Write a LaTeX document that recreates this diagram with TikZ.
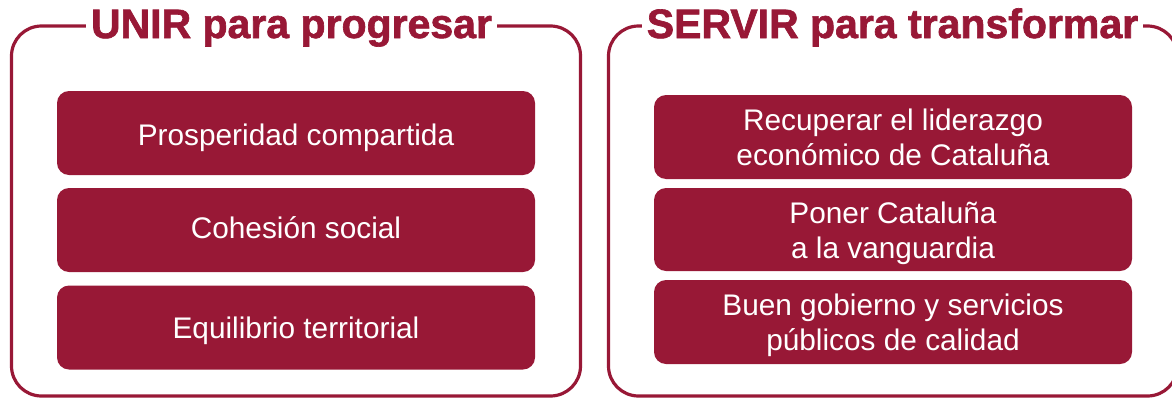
\documentclass[tikz,border=0pt]{standalone}
\usepackage{fontspec}
\setmainfont{Liberation Sans}
\newfontfamily\heavyfont{Liberation Sans}[BoldFeatures={FakeBold=1.6}]
\definecolor{wine}{RGB}{152,24,54}
\tikzset{
  frame/.style={draw=wine, line width=3.2pt, rounded corners=30pt},
  ttl/.style={fill=white, text=wine, font=\heavyfont\fontsize{41}{48}\selectfont\bfseries, inner xsep=5pt, inner ysep=2pt, anchor=base},
  box/.style={fill=wine, rounded corners=12pt, minimum width=478pt, minimum height=84pt, inner sep=0pt},
  lbl/.style={text=white, font=\fontsize{29.8}{35.5}\selectfont, inner sep=0pt, anchor=base},
}
\newcommand{\twolines}[2]{\begin{tabular}[t]{@{}c@{}}#1\\#2\end{tabular}}
\begin{document}
\begin{tikzpicture}[x=1pt,y=-1pt]
  \useasboundingbox (0,0) rectangle (1172,399);
  % frames
  \draw[frame] (11.5,26) rectangle (580.5,396);
  \draw[frame] (608.5,26) rectangle (1177.5,396);
  % titles
  \node[ttl] (tl) at (291.5,38) {UNIR para progresar};
  \node[ttl] (tr) at (892.5,38) {SERVIR para transformar};
  % left boxes
  \node[box] (l1) at (296,133) {};
  \node[box] (l2) at (296,230) {};
  \node[box] (l3) at (296,327.5) {};
  \node[lbl] (l1t) at (296,145) {Prosperidad compartida};
  \node[lbl] (l2t) at (296,238) {Cohesión social};
  \node[lbl] (l3t) at (296,338) {Equilibrio territorial};
  % right boxes
  \node[box] (r1) at (893,137) {};
  \node[box, minimum height=83pt] (r2) at (893,229.5) {};
  \node[box] (r3) at (893,322) {};
  \node[lbl] (r1t) at (893,130) {\twolines{Recuperar el liderazgo}{económico de Cataluña}};
  \node[lbl] (r2t) at (893,223) {\twolines{Poner Cataluña}{a la vanguardia}};
  \node[lbl] (r3t) at (893,315) {\twolines{Buen gobierno y servicios}{públicos de calidad}};
\end{tikzpicture}
\end{document}
